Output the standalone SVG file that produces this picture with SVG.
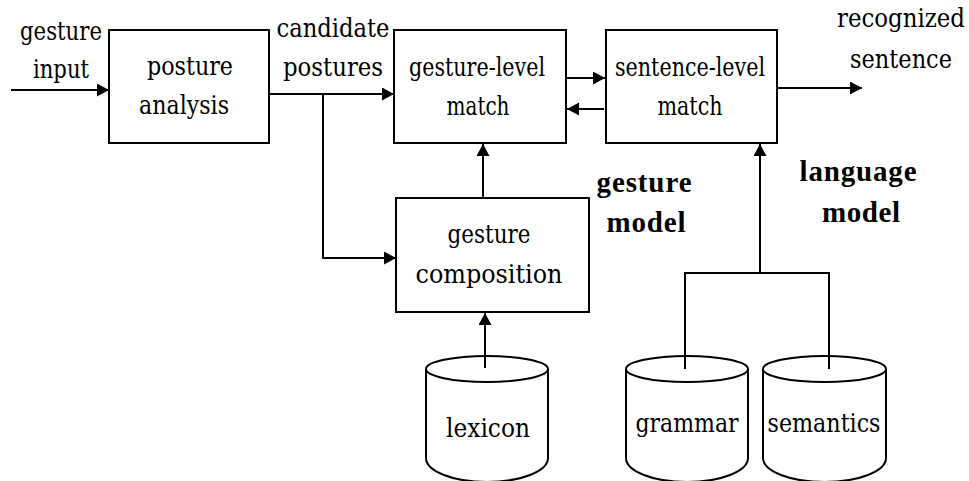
<svg xmlns="http://www.w3.org/2000/svg" width="969" height="481" viewBox="0 0 969 481">
  <defs>
    <style>
      .box { fill: #fff; stroke: #000; stroke-width: 2; }
      .db { fill: #fff; stroke: #000; stroke-width: 2; }
      .wire { fill: none; stroke: #000; stroke-width: 2; }
      text { font-family: 'DejaVu Serif Condensed', 'DejaVu Serif', serif; font-size: 26px; fill: #000; text-anchor: middle; }
      text.bold { font-family: 'Liberation Serif', serif; font-size: 29px; font-weight: 700; }
    </style>
    <marker id="arrow" markerWidth="14" markerHeight="14" refX="12" refY="6.5" orient="auto" markerUnits="userSpaceOnUse">
      <path d="M0,0 L12,6.5 L0,13 Z" fill="#000"/>
    </marker>
  </defs>

  <rect width="969" height="481" fill="#fff"/>

  <!-- free-standing labels -->
  <g id="labels">
    <text x="61" y="40" textLength="82" lengthAdjust="spacingAndGlyphs">gesture</text>
    <text x="61" y="78" textLength="56" lengthAdjust="spacingAndGlyphs">input</text>
    <text x="333" y="37" textLength="113" lengthAdjust="spacingAndGlyphs">candidate</text>
    <text x="333" y="76" textLength="100" lengthAdjust="spacingAndGlyphs">postures</text>
    <text x="901" y="27" textLength="128" lengthAdjust="spacingAndGlyphs">recognized</text>
    <text x="901" y="68" textLength="102" lengthAdjust="spacingAndGlyphs">sentence</text>
    <text class="bold" x="644" y="192" textLength="95" lengthAdjust="spacing">gesture</text>
    <text class="bold" x="646" y="232" textLength="79" lengthAdjust="spacing">model</text>
    <text class="bold" x="858" y="181" textLength="117" lengthAdjust="spacing">language</text>
    <text class="bold" x="861" y="222" textLength="78" lengthAdjust="spacing">model</text>
  </g>

  <!-- process boxes -->
  <g id="posture-analysis">
    <rect class="box" x="109" y="30" width="160" height="113"/>
    <text x="190" y="75" textLength="86" lengthAdjust="spacingAndGlyphs">posture</text>
    <text x="184" y="114" textLength="90" lengthAdjust="spacingAndGlyphs">analysis</text>
  </g>
  <g id="gesture-level-match">
    <rect class="box" x="394" y="30" width="172" height="113"/>
    <text x="477" y="76" textLength="136" lengthAdjust="spacingAndGlyphs">gesture-level</text>
    <text x="478" y="115" textLength="63" lengthAdjust="spacingAndGlyphs">match</text>
  </g>
  <g id="sentence-level-match">
    <rect class="box" x="606" y="30" width="171" height="113"/>
    <text x="690" y="76" textLength="150" lengthAdjust="spacingAndGlyphs">sentence-level</text>
    <text x="690" y="115" textLength="65" lengthAdjust="spacingAndGlyphs">match</text>
  </g>
  <g id="gesture-composition">
    <rect class="box" x="396" y="198" width="193" height="114"/>
    <text x="489" y="243" textLength="83" lengthAdjust="spacingAndGlyphs">gesture</text>
    <text x="489" y="283" textLength="147" lengthAdjust="spacingAndGlyphs">composition</text>
  </g>

  <!-- databases -->
  <g id="lexicon">
    <path class="db" d="M426,369 V458 A61,24 0 0 0 548,458 V369"/>
    <ellipse class="db" cx="487" cy="369" rx="61" ry="13"/>
    <text x="488" y="437" textLength="84" lengthAdjust="spacingAndGlyphs">lexicon</text>
  </g>
  <g id="grammar">
    <path class="db" d="M626,369 V458 A61,24 0 0 0 748,458 V369"/>
    <ellipse class="db" cx="687" cy="369" rx="61" ry="13"/>
    <text x="687" y="432" textLength="103" lengthAdjust="spacingAndGlyphs">grammar</text>
  </g>
  <g id="semantics">
    <path class="db" d="M763,369 V458 A61.5,24 0 0 0 886,458 V369"/>
    <ellipse class="db" cx="824.5" cy="369" rx="61.5" ry="13"/>
    <text x="824" y="432" textLength="113" lengthAdjust="spacingAndGlyphs">semantics</text>
  </g>

  <!-- connectors -->
  <g id="connectors">
    <line class="wire" x1="11" y1="90" x2="109" y2="90" marker-end="url(#arrow)"/>
    <line class="wire" x1="269" y1="94" x2="394" y2="94" marker-end="url(#arrow)"/>
    <polyline class="wire" points="323,94 323,258 396,258" marker-end="url(#arrow)"/>
    <line class="wire" x1="566" y1="78" x2="605" y2="78" marker-end="url(#arrow)"/>
    <line class="wire" x1="604" y1="109" x2="567" y2="109" marker-end="url(#arrow)"/>
    <line class="wire" x1="777" y1="88" x2="862" y2="88" marker-end="url(#arrow)"/>
    <line class="wire" x1="483" y1="198" x2="483" y2="144" marker-end="url(#arrow)"/>
    <line class="wire" x1="485" y1="368" x2="485" y2="313" marker-end="url(#arrow)"/>
    <polyline class="wire" points="685,369 685,273 829,273 829,369"/>
    <line class="wire" x1="760" y1="273" x2="760" y2="144" marker-end="url(#arrow)"/>
  </g>
</svg>
